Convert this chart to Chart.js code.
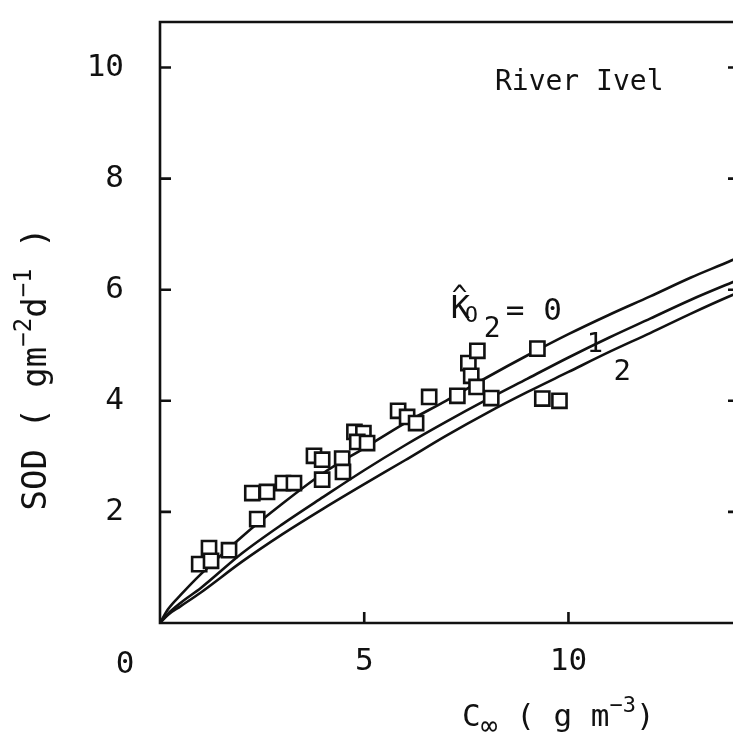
<!DOCTYPE html>
<html>
<head>
<meta charset="utf-8">
<script src="https://cdn.jsdelivr.net/npm/chart.js@4/dist/chart.umd.min.js"></script>
<style>
  html, body { margin: 0; padding: 0; background: #fff; overflow: hidden; }
  #sodChart { display: block; }
</style>
</head>
<body>
<canvas id="sodChart" width="745" height="749"></canvas>
<script>
// model curves, K_O2 = 0, 1, 2
const curveC = [0, 0.2, 0.5, 1, 2, 3, 4, 5, 6, 7, 8, 9, 10, 11, 12, 13, 14, 14.5];
const sodK0 = [0, 0.25, 0.5, 0.88, 1.55, 2.15, 2.7, 3.15, 3.6, 4.0, 4.42, 4.82, 5.2, 5.55, 5.88, 6.22, 6.53, 6.7];
const sodK1 = [0, 0.17, 0.36, 0.63, 1.25, 1.78, 2.27, 2.75, 3.2, 3.62, 4.02, 4.4, 4.78, 5.14, 5.48, 5.82, 6.13, 6.28];
const sodK2 = [0, 0.15, 0.3, 0.55, 1.1, 1.6, 2.06, 2.5, 2.93, 3.37, 3.78, 4.16, 4.52, 4.88, 5.22, 5.57, 5.9, 6.05];

// measured points, River Ivel
const obsC = [0.96, 1.20, 1.25, 1.69, 2.38, 2.26, 2.62, 3.01, 3.28, 3.77, 3.97, 3.97, 4.46, 4.48, 4.76, 4.98,
  4.83, 5.07, 5.83, 6.05, 6.27, 6.59, 7.28, 7.55, 7.62, 7.77, 7.75, 8.11, 9.24, 9.36, 9.78];
const obsSOD = [1.06, 1.35, 1.12, 1.31, 1.87, 2.34, 2.36, 2.52, 2.52, 3.01, 2.94, 2.58, 2.96, 2.72, 3.44, 3.42,
  3.26, 3.24, 3.82, 3.71, 3.60, 4.07, 4.09, 4.68, 4.45, 4.90, 4.25, 4.05, 4.94, 4.04, 4.00];

const xTicks = [5, 10];
const yTicks = [2, 4, 6, 8, 10];

const ink = '#111';
const FONT = '"DejaVu Sans Mono", monospace';

function toXY(xs, ys) {
  return xs.map((x, i) => ({ x: x, y: ys[i] }));
}

function curve(ys) {
  return {
    type: 'line',
    data: toXY(curveC, ys),
    borderColor: ink,
    borderWidth: 2.6,
    pointRadius: 0,
    fill: false,
    cubicInterpolationMode: 'monotone',
    order: 2
  };
}

function noPad(s) {
  s.paddingTop = 0; s.paddingBottom = 0; s.paddingLeft = 0; s.paddingRight = 0;
}

// draw a run of text pieces (sub/superscripts) starting at x, baseline y
function textRuns(ctx, runs, x, y, measureOnly) {
  let cx = x;
  runs.forEach(r => {
    ctx.font = r.s + 'px ' + FONT;
    if (!measureOnly) ctx.fillText(r.t, cx, y + (r.dy || 0));
    cx += ctx.measureText(r.t).width;
  });
  return cx - x;
}

const paperPlugin = {
  id: 'paper',
  afterDraw(chart) {
    const { ctx, chartArea: a, scales } = chart;
    const xs = scales.x, ys = scales.y;
    ctx.save();
    ctx.strokeStyle = ink;
    ctx.fillStyle = ink;
    ctx.lineWidth = 2.6;

    // frame
    ctx.beginPath();
    ctx.moveTo(a.left, a.top);
    ctx.lineTo(a.left, a.bottom);
    ctx.lineTo(a.right, a.bottom);
    ctx.lineTo(a.right, a.top);
    ctx.closePath();
    ctx.stroke();

    // inward ticks
    ctx.beginPath();
    yTicks.forEach(v => {
      const py = ys.getPixelForValue(v);
      ctx.moveTo(a.left, py); ctx.lineTo(a.left + 11, py);
      ctx.moveTo(a.right, py); ctx.lineTo(a.right - 12, py);
    });
    xTicks.forEach(v => {
      const px = xs.getPixelForValue(v);
      ctx.moveTo(px, a.bottom); ctx.lineTo(px, a.bottom - 11);
    });
    ctx.stroke();

    ctx.textBaseline = 'alphabetic';
    ctx.textAlign = 'left';

    // origin label
    ctx.font = '31px ' + FONT;
    ctx.textAlign = 'center';
    ctx.fillText('0', a.left - 35, a.bottom + 50);
    ctx.textAlign = 'left';

    // site name
    ctx.font = '28px ' + FONT;
    ctx.fillText('River Ivel', xs.getPixelForValue(8.2), ys.getPixelForValue(9.6));

    // K_O2 label
    const kx = xs.getPixelForValue(7.12), ky = ys.getPixelForValue(5.5);
    textRuns(ctx, [{ t: 'K', s: 32 }], kx, ky);
    ctx.font = '26px ' + FONT;
    ctx.fillText('^', kx + 1, ky - 14);
    textRuns(ctx, [{ t: 'O', s: 22 }], kx + 14, ky + 4);
    textRuns(ctx, [{ t: '2', s: 28 }], kx + 33, ky + 19);
    textRuns(ctx, [{ t: '= 0', s: 31 }], kx + 55, ky + 2);

    // curve numbers
    textRuns(ctx, [{ t: '1', s: 27 }], xs.getPixelForValue(10.45), ys.getPixelForValue(4.87));
    textRuns(ctx, [{ t: '2', s: 29 }], xs.getPixelForValue(11.1), ys.getPixelForValue(4.38));

    // x title
    const xRuns = [
      { t: 'C', s: 31 }, { t: '\u221E', s: 28, dy: 9 }, { t: ' ( g m', s: 31 },
      { t: '\u22123', s: 22, dy: -14 }, { t: ')', s: 31 }
    ];
    textRuns(ctx, xRuns, 462, 726);

    // y title (rotated)
    const yRuns = [
      { t: 'SOD ( gm', s: 34 }, { t: '\u22122', s: 24, dy: -15 }, { t: 'd', s: 34 },
      { t: '\u22121', s: 24, dy: -15 }, { t: ' )', s: 34 }
    ];
    const w = textRuns(ctx, yRuns, 0, 0, true);
    ctx.translate(46, 369);
    ctx.rotate(-Math.PI / 2);
    textRuns(ctx, yRuns, -w / 2, 0);
    ctx.restore();
  }
};

const ctx = document.getElementById('sodChart').getContext('2d');
new Chart(ctx, {
  type: 'scatter',
  data: {
    datasets: [
      {
        type: 'scatter',
        data: toXY(obsC, obsSOD),
        pointStyle: 'rect',
        pointRadius: 10,
        pointBorderWidth: 2.6,
        pointBorderColor: ink,
        pointBackgroundColor: '#fff',
        order: 1
      },
      curve(sodK0),
      curve(sodK1),
      curve(sodK2)
    ]
  },
  options: {
    responsive: false,
    animation: false,
    devicePixelRatio: 1,
    layout: { autoPadding: false, padding: { top: 22, left: 0, right: 5, bottom: 0 } },
    plugins: { legend: { display: false }, tooltip: { enabled: false } },
    scales: {
      x: {
        type: 'linear',
        min: 0,
        max: 14.2,
        grid: { display: false, drawTicks: false },
        border: { display: false },
        afterBuildTicks: s => { s.ticks = xTicks.map(v => ({ value: v })); },
        afterFit: s => { s.height = 126; noPad(s); },
        ticks: { color: ink, padding: 20, font: { family: FONT, size: 31 } }
      },
      y: {
        min: 0,
        max: 10.82,
        grid: { display: false, drawTicks: false },
        border: { display: false },
        afterBuildTicks: s => { s.ticks = yTicks.map(v => ({ value: v })); },
        afterFit: s => { s.width = 160; noPad(s); },
        ticks: { color: ink, padding: 36, font: { family: FONT, size: 31 } }
      }
    }
  },
  plugins: [paperPlugin]
});
</script>
</body>
</html>
